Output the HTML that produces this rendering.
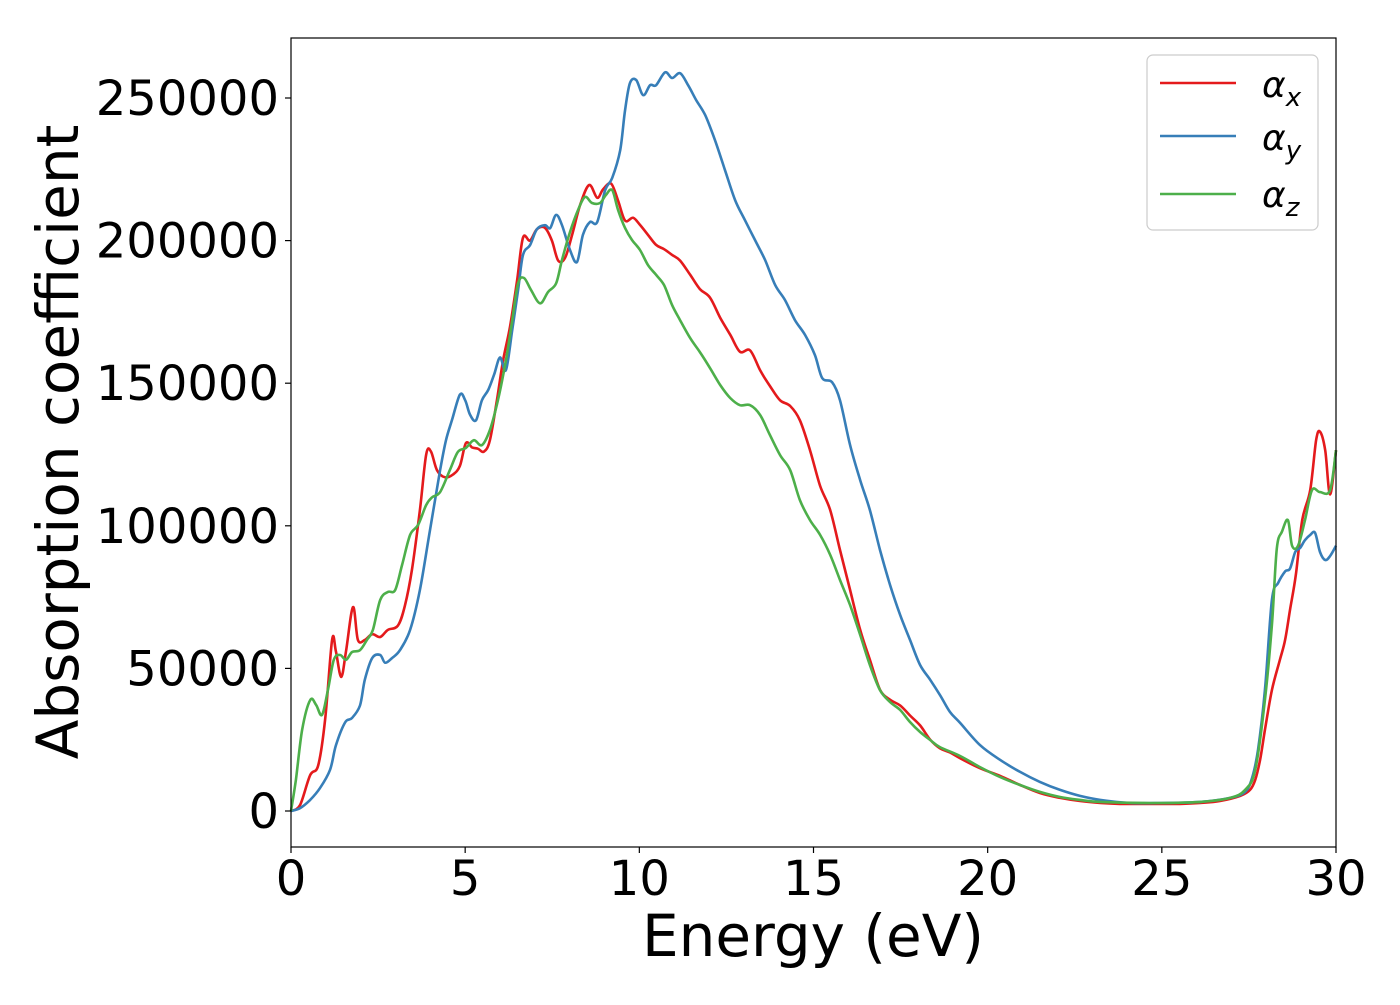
<!DOCTYPE html>
<html><head><meta charset="utf-8"><style>
html,body{margin:0;padding:0;background:#fff;}
svg text{font-family:"DejaVu Sans","Liberation Sans",sans-serif;fill:#000;}
</style></head><body>
<svg id="chart" width="1400" height="1000" viewBox="0 0 1400 1000" xmlns="http://www.w3.org/2000/svg">
<rect x="0" y="0" width="1400" height="1000" fill="#fff"/>
<g id="series"></g>
<rect x="291" y="38" width="1045" height="809" fill="none" stroke="#000" stroke-width="1.2"/>
<g id="xticks"></g><g id="yticks"></g>
<text x="813" y="956" font-size="58" text-anchor="middle">Energy (eV)</text>
<text transform="translate(78,442) rotate(-90)" font-size="58" text-anchor="middle">Absorption coefficient</text>
<g>
<rect x="1147" y="55" width="171" height="175" rx="6" fill="#fff" stroke="#ccc" stroke-width="1.2"/>
<line x1="1160" y1="83" x2="1236" y2="83" stroke="#e41a1c" stroke-width="2.6"/>
<text x="1262" y="97" font-size="36" font-style="italic">α<tspan font-size="26" dy="9">x</tspan></text>
<line x1="1160" y1="136" x2="1236" y2="136" stroke="#377eb8" stroke-width="2.6"/>
<text x="1262" y="150" font-size="36" font-style="italic">α<tspan font-size="26" dy="9">y</tspan></text>
<line x1="1160" y1="194" x2="1236" y2="194" stroke="#4daf4a" stroke-width="2.6"/>
<text x="1262" y="207" font-size="36" font-style="italic">α<tspan font-size="26" dy="9">z</tspan></text>
</g>
</svg>
<script>
const xTicks=[0,5,10,15,20,25,30];
const yTicks=[0,50000,100000,150000,200000,250000];
const eX=[0,0.26,0.55,0.78,0.98,1.18,1.29,1.44,1.58,1.78,1.92,2.12,2.33,2.56,2.78,3.07,3.27,3.47,3.70,3.88,4.02,4.19,4.42,4.65,4.85,5.02,5.20,5.37,5.54,5.71,5.91,6.09,6.29,6.49,6.66,6.86,7.06,7.29,7.49,7.67,7.87,8.07,8.30,8.56,8.79,8.96,9.19,9.39,9.59,9.82,10.02,10.25,10.48,10.71,10.94,11.17,11.46,11.74,12.03,12.32,12.61,12.89,13.18,13.47,13.75,14.04,14.33,14.61,14.90,15.19,15.48,15.76,16.05,16.34,16.62,16.91,17.20,17.49,17.77,18.06,18.35,18.63,18.92,19.21,19.78,20.36,20.93,21.50,22.08,22.65,23.23,23.80,24.66,25.52,26.10,26.67,27.25,27.53,27.68,27.82,27.96,28.16,28.39,28.54,28.68,28.85,29.03,29.26,29.43,29.54,29.69,29.83,30];
const alphaX=[0,2.1,12.6,16,32,60,56,47,56,71.5,60,60,62,61,63.5,65,72,84.5,105.5,125,126,119.5,117,118,121,129,127.5,127,126,130,144,158,170,186,201,200,204,204.5,200,193,194,202,212.5,219.5,215,218,220,214,207,208,205.5,202,198.5,197,195,193,188,183,180,173,167,161,161.5,154.5,149,144,142,137,126.5,114,105.5,91.5,77.5,63.5,53,42.5,39,37,33.5,30,25,22,20.5,18.5,15,12.3,9.1,6.3,4.6,3.5,2.8,2.5,2.5,2.5,2.8,3.5,5.3,7.4,10.9,17.9,28.4,42.4,53,60,70.5,83,102,112.5,130,133,126.5,111,126.5];
const eY=[0,0.26,0.55,0.83,1.12,1.29,1.55,1.75,1.98,2.12,2.33,2.56,2.70,2.90,3.13,3.42,3.70,3.99,4.28,4.45,4.62,4.85,5.00,5.14,5.31,5.48,5.66,5.83,6.00,6.17,6.35,6.52,6.66,6.86,7.06,7.29,7.44,7.61,7.78,8.01,8.21,8.38,8.58,8.79,9.02,9.22,9.45,9.59,9.73,9.91,10.11,10.31,10.48,10.74,10.94,11.17,11.40,11.63,11.89,12.17,12.46,12.75,13.03,13.32,13.61,13.90,14.18,14.47,14.76,15.04,15.25,15.53,15.76,16.05,16.34,16.62,16.91,17.20,17.49,17.77,18.06,18.35,18.63,18.92,19.21,19.78,20.36,20.93,21.50,22.08,22.65,23.23,24.09,24.95,26.10,26.96,27.39,27.59,27.76,27.96,28.16,28.34,28.54,28.68,28.83,28.97,29.11,29.26,29.40,29.54,29.69,29.83,30];
const alphaY=[0,1,3.9,8,14.4,23,31,32.6,37,46,53.6,54.7,52,53.6,56.4,63.5,77.5,98.5,119.5,130,137,146,144,139,137,144,147.6,153,159,154.6,168.6,182.7,195,198.4,204,205.4,204.4,209,205.4,196.7,192.5,202,206.5,206.5,217.7,222,231.7,245.8,255.2,256.3,251,254.5,254.5,259,257,258.7,254.5,249.3,244,235.3,224.7,214.2,207.2,200.2,193.2,184.4,179.2,172.1,166.9,159.9,151.8,150.4,144,128.3,116,105.5,91.5,79.2,68.7,60,51.2,46,40.7,34.7,30.9,23.1,17.9,13.7,10.2,7.4,5.3,3.9,2.8,2.8,3.2,4.6,6.7,11.6,21.4,42.4,74,80,84,85,90.8,92.2,95,96.8,97.5,90.8,88,89.4,93];
const eZ=[0,0.14,0.32,0.55,0.72,0.89,1.06,1.23,1.41,1.58,1.75,1.98,2.18,2.35,2.56,2.78,2.99,3.19,3.42,3.65,3.88,4.05,4.28,4.56,4.79,5.02,5.25,5.48,5.71,5.94,6.17,6.35,6.52,6.69,6.89,7.15,7.38,7.61,7.78,8.01,8.24,8.44,8.64,8.87,9.04,9.22,9.39,9.59,9.79,10.02,10.25,10.48,10.71,10.94,11.17,11.46,11.74,12.03,12.32,12.61,12.89,13.18,13.47,13.75,14.04,14.33,14.61,14.90,15.19,15.48,15.76,16.05,16.34,16.62,16.91,17.20,17.49,17.77,18.06,18.35,18.63,19.21,19.78,20.36,20.93,21.50,22.08,22.65,23.23,24.66,26.10,26.96,27.39,27.68,27.96,28.16,28.30,28.45,28.62,28.74,28.91,29.11,29.31,29.54,29.83,30];
const alphaZ=[0,10.9,28.4,38.9,37.2,33.7,42.4,53,54.7,53,55.7,56.4,60,63.5,74,76.8,77.5,86.3,96.8,100.3,107.3,110,111.8,119.5,125.9,127.3,130,128.3,133.6,144,158,172,185,186.9,182.7,178,182,185,193.2,203,210.7,215.3,213.2,213.2,216,217.7,210.7,204.4,200.2,196.7,191.4,188,184.4,177.4,172.1,165.8,160.9,155.3,149.4,144.8,142.3,142.3,138.8,131.8,124.8,119.5,109,102,96.8,89.8,81,72.2,61.7,51.2,42.4,38.2,35.4,31.2,27.7,24.9,22.4,19.3,15.4,11.9,9.1,6.7,4.9,3.9,3.2,2.8,3.2,4.6,7.4,14.4,38.9,65.2,92,98,102,93,93,102,112.5,111.8,112.5,126.5];
const NS='http://www.w3.org/2000/svg';
const X0=291,X1=1336,Y0=811,Y250=98;
function sx(e){return X0+(e-0)/30*(X1-X0);}
function sy(v){return Y0+(v/250000)*(Y250-Y0);}
const seriesG=document.getElementById('series');
function drawSeries(es,vs,color,name){
  const p=document.createElementNS(NS,'path');
  const pts=es.map((e,i)=>[sx(e),sy(vs[i]*1000)]);
  let d='M'+pts[0][0].toFixed(1)+','+pts[0][1].toFixed(1);
  for(let i=0;i<pts.length-1;i++){
    const p0=pts[Math.max(0,i-1)],p1=pts[i],p2=pts[i+1],p3=pts[Math.min(pts.length-1,i+2)];
    const c1=[p1[0]+(p2[0]-p0[0])/6,p1[1]+(p2[1]-p0[1])/6];
    const c2=[p2[0]-(p3[0]-p1[0])/6,p2[1]-(p3[1]-p1[1])/6];
    d+='C'+c1[0].toFixed(1)+','+c1[1].toFixed(1)+' '+c2[0].toFixed(1)+','+c2[1].toFixed(1)+' '+p2[0].toFixed(1)+','+p2[1].toFixed(1);
  }
  p.setAttribute('d',d);p.setAttribute('fill','none');p.setAttribute('stroke',color);
  p.setAttribute('stroke-width','2.6');p.setAttribute('stroke-linejoin','round');
  
  
  seriesG.appendChild(p);
}
drawSeries(eX,alphaX,'#e41a1c','alpha-x-line');
drawSeries(eY,alphaY,'#377eb8','alpha-y-line');
drawSeries(eZ,alphaZ,'#4daf4a','alpha-z-line');
const xg=document.getElementById('xticks');
xTicks.forEach(t=>{
  const l=document.createElementNS(NS,'line');
  l.setAttribute('x1',sx(t));l.setAttribute('x2',sx(t));l.setAttribute('y1',847);l.setAttribute('y2',853);
  l.setAttribute('stroke','#000');l.setAttribute('stroke-width','1.2');
  
  
  xg.appendChild(l);
  const tx=document.createElementNS(NS,'text');
  tx.setAttribute('x',sx(t));tx.setAttribute('y',895);tx.setAttribute('font-size','48');tx.setAttribute('text-anchor','middle');
  tx.textContent=t;
  
  
  xg.appendChild(tx);
});
const yg=document.getElementById('yticks');
yTicks.forEach(t=>{
  const l=document.createElementNS(NS,'line');
  l.setAttribute('x1',285);l.setAttribute('x2',291);l.setAttribute('y1',sy(t));l.setAttribute('y2',sy(t));
  l.setAttribute('stroke','#000');l.setAttribute('stroke-width','1.2');
  
  
  yg.appendChild(l);
  const tx=document.createElementNS(NS,'text');
  tx.setAttribute('x',279);tx.setAttribute('y',sy(t)+17);tx.setAttribute('font-size','48');tx.setAttribute('text-anchor','end');
  tx.textContent=t;
  
  
  yg.appendChild(tx);
});
</script>
</body></html>
